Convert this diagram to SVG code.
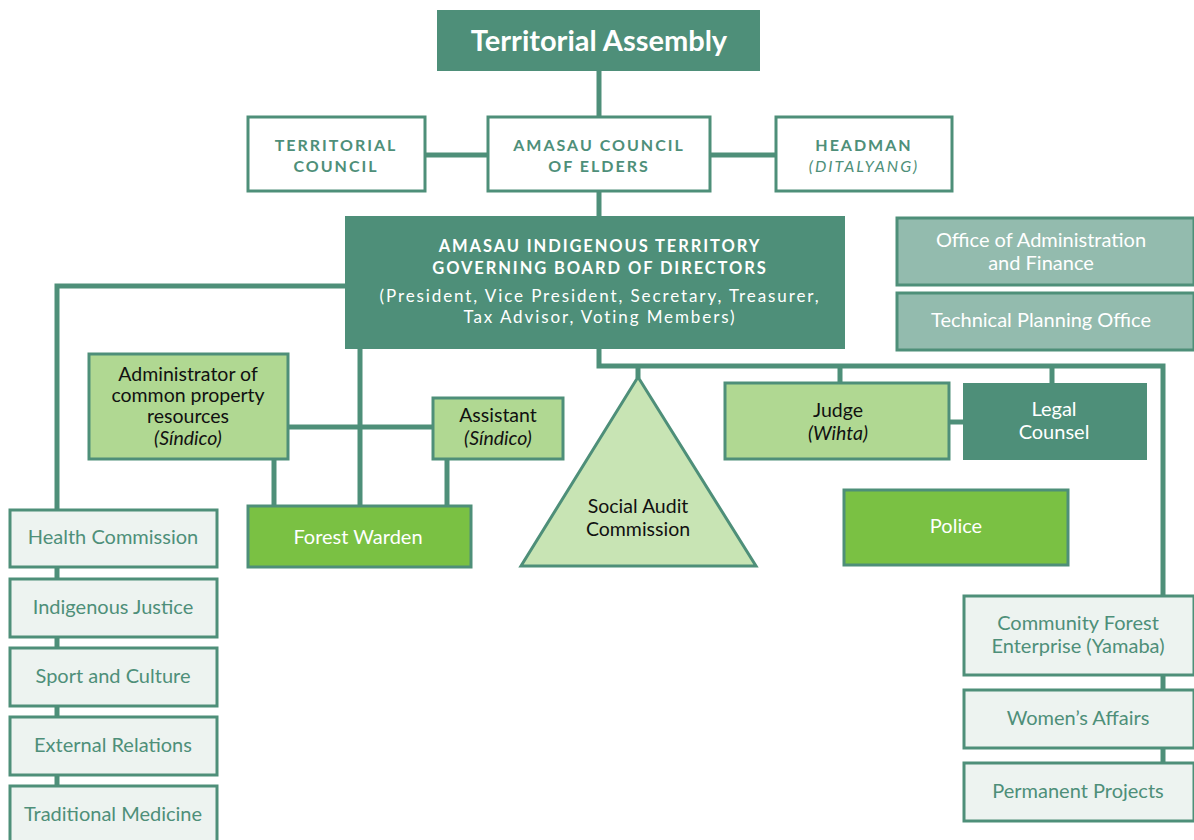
<svg xmlns="http://www.w3.org/2000/svg" width="1194" height="840" viewBox="0 0 1194 840">
  <style>
    .ln { fill: none; stroke: #4e8f79; stroke-width: 5; }
    .dark { fill: #4e8f79; }
    .pale { fill: #edf3f0; stroke: #4e8f79; stroke-width: 3; }
    .white { fill: #ffffff; stroke: #4e8f79; stroke-width: 3; }
    .lime { fill: #b0d892; stroke: #4e8f79; stroke-width: 3; }
    .bright { fill: #7ac143; stroke: #4e8f79; stroke-width: 3; }
    .sage { fill: #93bbae; stroke: #4e8f79; stroke-width: 3; }
    .tri { fill: #c8e4b4; stroke: #4e8f79; stroke-width: 3; }
    text { font-family: "Lato", "Open Sans", sans-serif; text-anchor: middle; }
    .caps { font-size: 16px; font-weight: bold; letter-spacing: 2px; fill: #4e8f79; }
    .capsI { font-size: 16px; font-style: italic; letter-spacing: 2px; fill: #4e8f79; }
    .bcaps { font-size: 16.5px; font-weight: bold; letter-spacing: 1.9px; fill: #ffffff; }
    .bsub { font-size: 17px; letter-spacing: 1.9px; fill: #ffffff; }
    .g { font-size: 20px; fill: #4e8f79; }
    .w { font-size: 20px; fill: #ffffff; }
    .k { font-size: 19.5px; fill: #111111; }
    .ki { font-size: 19.5px; font-style: italic; fill: #111111; }
  </style>

  <g id="connectors">
    <!-- assembly to council of elders -->
    <path class="ln" d="M599 71 V117"/>
    <!-- side councils -->
    <path class="ln" d="M425 155 H488 M710 155 H776"/>
    <!-- elders to board -->
    <path class="ln" d="M599 191 V216"/>
    <!-- board to left commissions -->
    <path class="ln" d="M345 286 H57 V510"/>
    <path class="ln" d="M57 567 V579 M57 637 V648 M57 706 V717 M57 775 V786"/>
    <!-- board to forest warden and sindicos -->
    <path class="ln" d="M360 349 V506"/>
    <path class="ln" d="M288 427 H433"/>
    <path class="ln" d="M274 459 V506 M447 459 V506"/>
    <!-- board to right branch -->
    <path class="ln" d="M599 349 V366 H1163 V596"/>
    <path class="ln" d="M638 366 V378"/>
    <path class="ln" d="M840 366 V383 M1052 366 V383"/>
    <path class="ln" d="M949 422 H963"/>
    <path class="ln" d="M1163 675 V690 M1163 748 V763"/>
  </g>

  <g id="territorial-assembly">
    <rect class="dark" x="437" y="10" width="323" height="61"/>
    <text x="599" y="51" style="font-size:29px;font-weight:bold;fill:#ffffff">Territorial Assembly</text>
  </g>

  <g id="territorial-council">
    <rect class="white" x="248" y="117" width="177" height="74"/>
    <text class="caps" x="336" y="151">TERRITORIAL</text>
    <text class="caps" x="336" y="172">COUNCIL</text>
  </g>

  <g id="council-of-elders">
    <rect class="white" x="488" y="117" width="222" height="74"/>
    <text class="caps" x="599" y="151">AMASAU COUNCIL</text>
    <text class="caps" x="599" y="172">OF ELDERS</text>
  </g>

  <g id="headman">
    <rect class="white" x="776" y="117" width="176" height="74"/>
    <text class="caps" x="864" y="151">HEADMAN</text>
    <text class="capsI" x="864" y="172">(DITALYANG)</text>
  </g>

  <g id="board">
    <rect class="dark" x="345" y="216" width="500" height="133"/>
    <text class="bcaps" x="600" y="252">AMASAU INDIGENOUS TERRITORY</text>
    <text class="bcaps" x="600" y="274">GOVERNING BOARD OF DIRECTORS</text>
    <text class="bsub" x="600" y="302">(President, Vice President, Secretary, Treasurer,</text>
    <text class="bsub" x="600" y="323">Tax Advisor, Voting Members)</text>
  </g>

  <g id="admin-finance">
    <rect class="sage" x="897" y="218" width="297" height="67"/>
    <text class="w" x="1041" y="247">Office of Administration</text>
    <text class="w" x="1041" y="270">and Finance</text>
  </g>

  <g id="technical-planning">
    <rect class="sage" x="897" y="293" width="297" height="57"/>
    <text class="w" x="1041" y="327">Technical Planning Office</text>
  </g>

  <g id="sindico">
    <rect class="lime" x="89" y="354" width="199" height="105"/>
    <text class="k" x="188" y="381">Administrator of</text>
    <text class="k" x="188" y="402">common property</text>
    <text class="k" x="188" y="423">resources</text>
    <text class="ki" x="188" y="445">(Síndico)</text>
  </g>

  <g id="assistant">
    <rect class="lime" x="433" y="398" width="130" height="61"/>
    <text class="k" x="498" y="422">Assistant</text>
    <text class="ki" x="498" y="445">(Síndico)</text>
  </g>

  <g id="forest-warden">
    <rect class="bright" x="248" y="506" width="223" height="61"/>
    <text class="w" x="358" y="544">Forest Warden</text>
  </g>

  <g id="social-audit">
    <polygon class="tri" points="638,377 756,566 521,566"/>
    <text class="k" x="638" y="513">Social Audit</text>
    <text class="k" x="638" y="536">Commission</text>
  </g>

  <g id="judge">
    <rect class="lime" x="725" y="383" width="224" height="76"/>
    <text class="k" x="838" y="417">Judge</text>
    <text class="ki" x="838" y="440">(Wihta)</text>
  </g>

  <g id="legal-counsel">
    <rect class="dark" x="963" y="383" width="184" height="77"/>
    <text class="w" x="1054" y="416">Legal</text>
    <text class="w" x="1054" y="439">Counsel</text>
  </g>

  <g id="police">
    <rect class="bright" x="844" y="490" width="224" height="75"/>
    <text class="w" x="956" y="533">Police</text>
  </g>

  <g id="health-commission">
    <rect class="pale" x="10" y="510" width="207" height="57"/>
    <text class="g" x="113" y="544">Health Commission</text>
  </g>
  <g id="indigenous-justice">
    <rect class="pale" x="10" y="579" width="207" height="58"/>
    <text class="g" x="113" y="614">Indigenous Justice</text>
  </g>
  <g id="sport-culture">
    <rect class="pale" x="10" y="648" width="207" height="58"/>
    <text class="g" x="113" y="683">Sport and Culture</text>
  </g>
  <g id="external-relations">
    <rect class="pale" x="10" y="717" width="207" height="58"/>
    <text class="g" x="113" y="752">External Relations</text>
  </g>
  <g id="traditional-medicine">
    <rect class="pale" x="10" y="786" width="207" height="60"/>
    <text class="g" x="113" y="821">Traditional Medicine</text>
  </g>

  <g id="community-forest">
    <rect class="pale" x="964" y="596" width="230" height="79"/>
    <text class="g" x="1078" y="630">Community Forest</text>
    <text class="g" x="1078" y="653">Enterprise (Yamaba)</text>
  </g>
  <g id="womens-affairs">
    <rect class="pale" x="964" y="690" width="230" height="58"/>
    <text class="g" x="1078" y="725">Women’s Affairs</text>
  </g>
  <g id="permanent-projects">
    <rect class="pale" x="964" y="763" width="230" height="58"/>
    <text class="g" x="1078" y="798">Permanent Projects</text>
  </g>
</svg>
